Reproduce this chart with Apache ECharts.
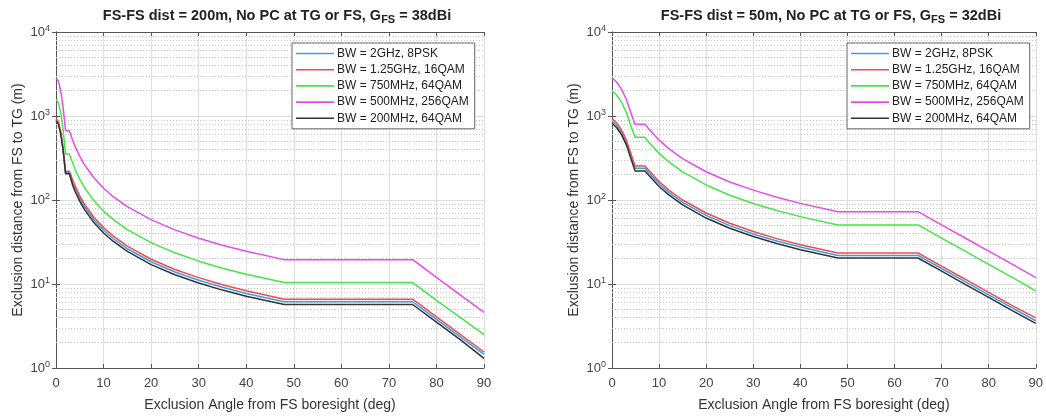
<!DOCTYPE html>
<html>
<head>
<meta charset="utf-8">
<script src="https://cdn.jsdelivr.net/npm/echarts@6/dist/echarts.min.js"></script>
<style>
html,body{margin:0;padding:0;background:#fff;}
#chart{width:1046px;height:417px;}
</style>
</head>
<body>
<div id="chart"></div>
<script>
// ---------- data ----------
const seriesNames = ['BW = 2GHz, 8PSK', 'BW = 1.25GHz, 16QAM', 'BW = 750MHz, 64QAM', 'BW = 500MHz, 256QAM', 'BW = 200MHz, 64QAM'];
const xTicks = [0, 10, 20, 30, 40, 50, 60, 70, 80, 90];
const yTickExponents = [0, 1, 2, 3, 4];
const minorGridValues = [2,3,4,5,6,7,8,9,20,30,40,50,60,70,80,90,200,300,400,500,600,700,800,900,2000,3000,4000,5000,6000,7000,8000,9000];

// Left panel: FS-FS dist = 200m, G_FS = 38dBi
const angleLeft = [0,0.5,1,1.5,2,2.8,3.5,4,5,6,8,10,12,15,20,25,30,35,40,48,60,75,80,85,90];
const left2GHz   = [895,817,623,396,212,212,162,137,104,82.7,57.7,43.7,34.8,26.3,18.4,13.9,11.1,9.13,7.72,6.15,6.15,6.15,3.80,2.35,1.45];
const left1250MHz= [935,854,651,413,220,220,174,147,112,88.8,62.0,46.9,37.4,28.2,19.7,14.9,11.9,9.79,8.29,6.6,6.6,6.6,4.07,2.52,1.55];
const left750MHz = [1580,1440,1090,680,354,354,275,232,176,140,97.7,73.8,58.9,44.5,31.1,23.5,18.7,15.4,13.1,10.4,10.4,10.4,6.4,4.0,2.5];
const left500MHz = [2850,2600,1985,1260,667,667,515,435,330,262,183,138,110,83.5,58.3,44.1,35.1,28.9,24.5,19.5,19.5,19.5,12.0,7.44,4.6];
const left200MHz = [875,799,609,387,206,206,150,127,96.3,76.7,53.5,40.5,32.3,24.4,17.0,12.9,10.3,8.46,7.16,5.7,5.7,5.7,3.52,2.18,1.3];

// Right panel: FS-FS dist = 50m, G_FS = 32dBi
const angleRight = [0,1,2,3,4,4.9,7,8,10,12,15,20,25,30,35,40,48,65,70,75,80,85,90];
const right2GHz   = [870,769,638,488,332,238,238,206,156,124,93.7,65.5,49.5,39.4,32.5,27.5,21.9,21.9,15.3,10.65,7.42,5.19,3.65];
const right1250MHz= [935,827,685,525,357,254,254,220,166,132,100,70.0,52.9,42.1,34.7,29.4,23.4,23.4,16.3,11.4,7.93,5.54,3.95];
const right750MHz = [2000,1768,1466,1122,764,557,557,474,359,286,216,151,114,90.9,74.9,63.4,50.5,50.5,35.2,24.6,17.1,12.0,8.3];
const right500MHz = [2850,2520,2090,1600,1090,800,800,682,516,411,311,217,164,131,108,91.2,72.6,72.6,50.6,35.3,24.6,17.2,11.9];
const right200MHz = [820,725,600,460,313,222,222,192,145,116,87.3,61.0,46.1,36.7,30.3,25.6,20.4,20.4,14.2,9.92,6.92,4.83,3.4];

const titleLeft = 'FS-FS dist = 200m, No PC at TG or FS, G{sub|FS} = 38dBi';
const titleRight = 'FS-FS dist = 50m, No PC at TG or FS, G{sub|FS} = 32dBi';
const xName = 'Exclusion Angle from FS boresight (deg)';
const yName = 'Exclusion distance from FS to TG (m)';

// ---------- styling ----------
const colors = ['#3f9de6', '#f24b4b', '#45e645', '#e84ce8', '#333333'];
const FONT = 'Liberation Sans, Arial, Helvetica, sans-serif';
const axisColor = '#555555';
const grids = [
  {left: 56, top: 32, width: 428, height: 339},
  {left: 612, top: 32, width: 428, height: 339}
];

const chart = echarts.init(document.getElementById('chart'), null, {renderer: 'canvas'});

function xAxes(gi) {
  const base = {
    type: 'value', min: 0, max: 90, interval: 10, gridIndex: gi
  };
  return [
    Object.assign({}, base, {
      position: 'bottom',
      name: xName, nameLocation: 'middle', nameGap: 30,
      nameTextStyle: {fontFamily: FONT, fontSize: 14, color: '#333'},
      axisLine: {show: true, lineStyle: {color: axisColor, width: 1}},
      axisTick: {show: true, inside: true, length: 4, lineStyle: {color: axisColor}},
      axisLabel: {fontFamily: FONT, fontSize: 13, color: '#444', margin: 9,
        formatter: v => xTicks.indexOf(v) >= 0 ? String(v) : ''},
      splitLine: {show: true, lineStyle: {color: '#dedede', width: 1}}
    }),
    Object.assign({}, base, {
      position: 'top',
      axisLine: {show: true, lineStyle: {color: axisColor, width: 1}},
      axisTick: {show: true, inside: true, length: 4, lineStyle: {color: axisColor}},
      axisLabel: {show: false},
      splitLine: {show: false}
    })
  ];
}

function yAxes(gi) {
  const base = {type: 'log', logBase: 10, min: 1, max: 10000, gridIndex: gi};
  return [
    Object.assign({}, base, {
      position: 'left',
      name: yName, nameLocation: 'middle', nameGap: 31, nameRotate: 90,
      nameTextStyle: {fontFamily: FONT, fontSize: 14, color: '#333'},
      axisLine: {show: true, lineStyle: {color: axisColor, width: 1}},
      axisTick: {show: true, inside: true, length: 4, lineStyle: {color: axisColor}},
      axisLabel: {
        fontFamily: FONT, fontSize: 13, color: '#444', margin: 6,
        formatter: v => {
          const e = Math.round(Math.log10(v));
          return yTickExponents.indexOf(e) >= 0 ? '{b|10}{sup|' + e + '}' : '';
        },
        rich: {
          b: {fontFamily: FONT, fontSize: 13, color: '#444', lineHeight: 15},
          sup: {fontFamily: FONT, fontSize: 9, color: '#444', lineHeight: 9, padding: [0, 0, 7, 0]}
        }
      },
      splitLine: {show: true, lineStyle: {color: '#dedede', width: 1}}
    }),
    Object.assign({}, base, {
      position: 'right',
      axisLine: {show: true, lineStyle: {color: axisColor, width: 1}},
      axisTick: {show: true, inside: true, length: 4, lineStyle: {color: axisColor}},
      axisLabel: {show: false},
      splitLine: {show: false}
    })
  ];
}

function lineSeries(name, xs, ys, axisOffset, color) {
  return {
    name: name, type: 'line',
    xAxisIndex: axisOffset, yAxisIndex: axisOffset,
    data: xs.map((x, i) => [x, ys[i]]),
    showSymbol: false, symbol: 'none',
    lineStyle: {color: color, width: 1.5},
    itemStyle: {color: color},
    z: 3, silent: true
  };
}

function minorGrid(axisOffset) {
  return {
    type: 'line', xAxisIndex: axisOffset, yAxisIndex: axisOffset, data: [],
    silent: true, z: 1,
    markLine: {
      silent: true, symbol: 'none', z: 1, animation: false,
      label: {show: false},
      lineStyle: {type: [1, 2], color: '#c4c4c4', width: 1},
      data: minorGridValues.map(v => ({yAxis: v}))
    }
  };
}

const leftData = [left2GHz, left1250MHz, left750MHz, left500MHz, left200MHz];
const rightData = [right2GHz, right1250MHz, right750MHz, right500MHz, right200MHz];

const series = [minorGrid(0), minorGrid(2)];
seriesNames.forEach((n, i) => series.push(lineSeries(n, angleLeft, leftData[i], 0, colors[i])));
seriesNames.forEach((n, i) => series.push(lineSeries(n, angleRight, rightData[i], 2, colors[i])));

function legend(leftPos) {
  return {
    data: seriesNames, orient: 'vertical', left: leftPos, top: 43,
    icon: 'rect', itemWidth: 38, itemHeight: 1.6, itemGap: 3.2,
    padding: [4, 6, 4, 4],
    backgroundColor: '#ffffff', borderColor: '#666', borderWidth: 1,
    textStyle: {fontFamily: FONT, fontSize: 12, color: '#222', lineHeight: 13, padding: [0, 0, 0, -2]},
    selectedMode: false
  };
}

const titleRich = {sub: {fontFamily: FONT, fontSize: 11, fontWeight: 'bold', color: '#222', lineHeight: 11, padding: [8, 0, 0, 0]}};
function title(text, center) {
  return {
    text: text, left: center, top: 2, textAlign: 'center',
    textStyle: {fontFamily: FONT, fontSize: 14.5, fontWeight: 'bold', color: '#222', lineHeight: 17, rich: titleRich}
  };
}

chart.setOption({
  animation: false,
  backgroundColor: '#ffffff',
  title: [title(titleLeft, 272), title(titleRight, 826)],
  grid: grids.map(g => Object.assign({show: false}, g)),
  xAxis: xAxes(0).concat(xAxes(1)),
  yAxis: yAxes(0).concat(yAxes(1)),
  legend: [legend(292), legend(847)],
  series: series
});
</script>
</body>
</html>
